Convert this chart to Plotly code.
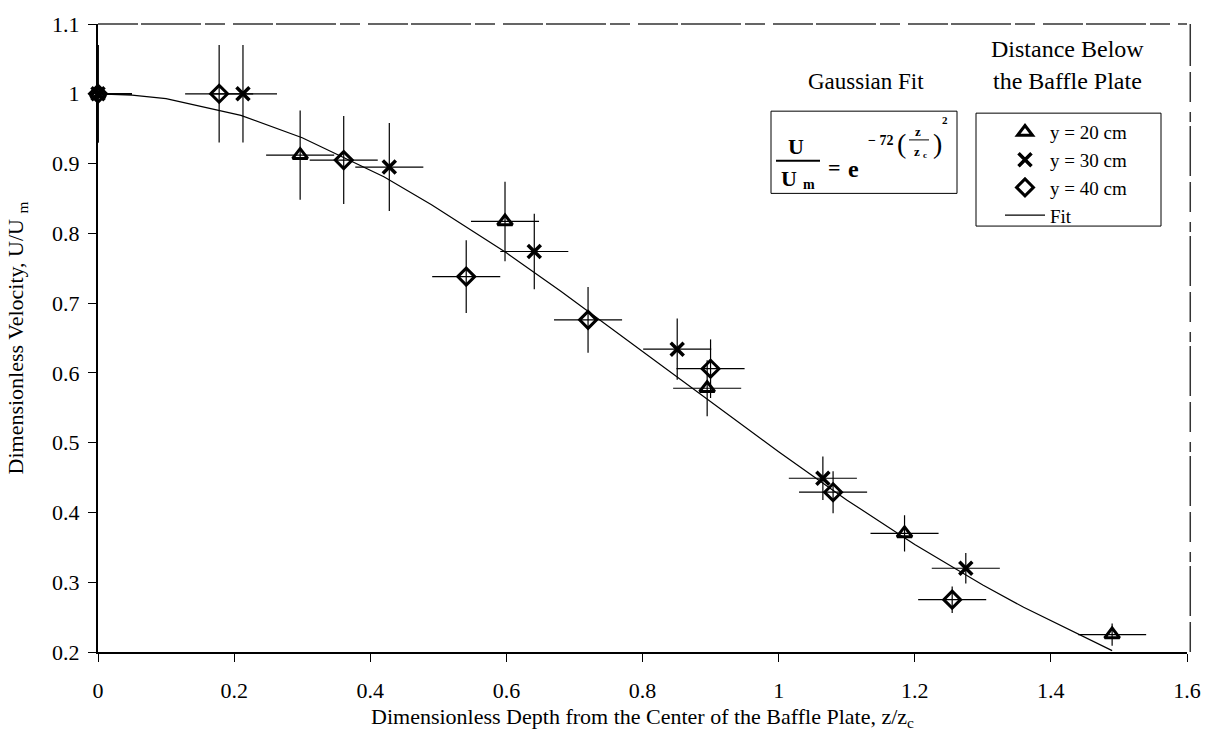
import plotly.graph_objects as go

# ---------------- data ----------------
x20 = [0.0, 0.297, 0.598, 0.895, 1.185, 1.49]
y20 = [1.0, 0.912, 0.817, 0.578, 0.370, 0.225]
ey20 = [0.070, 0.064, 0.057, 0.040, 0.026, 0.016]
ex20 = [0.05, 0.05, 0.05, 0.05, 0.05, 0.05]

x30 = [0.0, 0.213, 0.428, 0.641, 0.851, 1.065, 1.275]
y30 = [1.0, 1.0, 0.895, 0.774, 0.634, 0.449, 0.320]
ey30 = [0.070, 0.070, 0.063, 0.054, 0.044, 0.031, 0.022]
ex30 = [0.05, 0.05, 0.05, 0.05, 0.05, 0.05, 0.05]

x40 = [0.0, 0.178, 0.361, 0.541, 0.720, 0.900, 1.080, 1.255]
y40 = [1.0, 1.0, 0.905, 0.738, 0.676, 0.606, 0.429, 0.275]
ey40 = [0.070, 0.070, 0.063, 0.052, 0.047, 0.042, 0.030, 0.019]
ex40 = [0.05, 0.05, 0.05, 0.05, 0.05, 0.05, 0.05, 0.05]

xfit = [0.0, 0.05, 0.10, 0.21, 0.30, 0.42, 0.49, 0.60, 0.68, 0.80, 0.90,
        1.00, 1.10, 1.20, 1.30, 1.36, 1.49]
yfit = [1.0, 0.998, 0.993, 0.969, 0.937, 0.881, 0.841, 0.772, 0.717, 0.631,
        0.558, 0.487, 0.418, 0.354, 0.296, 0.264, 0.202]

xticks = [0, 0.2, 0.4, 0.6, 0.8, 1.0, 1.2, 1.4, 1.6]
xticklabels = ["0", "0.2", "0.4", "0.6", "0.8", "1", "1.2", "1.4", "1.6"]
yticks = [0.2, 0.3, 0.4, 0.5, 0.6, 0.7, 0.8, 0.9, 1.0, 1.1]
yticklabels = ["0.2", "0.3", "0.4", "0.5", "0.6", "0.7", "0.8", "0.9", "1", "1.1"]

labels = ["y = 20 cm", "y = 30 cm", "y = 40 cm", "Fit"]

# ---------------- layout helpers ----------------
FONT = "Liberation Serif"
L, R, T, B = 98, 30, 18, 97
W, H = 1217, 749
PW, PH = W - L - R, H - T - B


def px(xp):
    return (xp - L) / PW


def py(yp):
    return 1 - (yp - T) / PH


ebar = dict(type="data", thickness=1.2, width=0, color="black")

fig = go.Figure()

fig.add_trace(go.Scatter(
    x=xfit, y=yfit, mode="lines", name=labels[3], legendrank=4,
    line=dict(color="black", width=1.2), cliponaxis=False))

fig.add_trace(go.Scatter(
    x=x20, y=y20, mode="markers", name=labels[0], legendrank=1,
    marker=dict(symbol="triangle-up-open", size=13, color="black",
                line=dict(width=3, color="black")),
    error_y=dict(array=ey20, **ebar), error_x=dict(array=ex20, **ebar),
    cliponaxis=False))

fig.add_trace(go.Scatter(
    x=x30, y=y30, mode="markers", name=labels[1], legendrank=2,
    marker=dict(symbol="x-thin-open", size=13, color="black",
                line=dict(width=3.5, color="black")),
    error_y=dict(array=ey30, **ebar), error_x=dict(array=ex30, **ebar),
    cliponaxis=False))

fig.add_trace(go.Scatter(
    x=x40, y=y40, mode="markers", name=labels[2], legendrank=3,
    marker=dict(symbol="diamond-open", size=13, color="black",
                line=dict(width=3, color="black")),
    error_y=dict(array=ey40, **ebar), error_x=dict(array=ex40, **ebar),
    cliponaxis=False))

axis_common = dict(showgrid=False, zeroline=False, ticks="outside", ticklen=8,
                   tickwidth=1, tickcolor="black", showline=True,
                   linecolor="black", linewidth=2,
                   tickfont=dict(family=FONT, size=22, color="black"))

fig.update_layout(
    width=W, height=H, autosize=False,
    margin=dict(l=L, r=R, t=T, b=B, pad=0),
    paper_bgcolor="white", plot_bgcolor="white",
    font=dict(family=FONT, color="black"),
    xaxis=dict(range=[0, 1.6], tickvals=xticks, ticktext=xticklabels,
               ticklabelstandoff=10,
               title=dict(text="Dimensionless Depth from the Center of the Baffle Plate, z/z<sub>c</sub>",
                          font=dict(family=FONT, size=22), standoff=6),
               **axis_common),
    yaxis=dict(range=[0.2, 1.1], tickvals=yticks, ticktext=yticklabels,
               ticklabelstandoff=4,
               title=dict(text="Dimensionless Velocity, U/U <sub>m</sub>",
                          font=dict(family=FONT, size=22), standoff=22),
               **axis_common),
    xaxis2=dict(range=[0, 1.6], overlaying="x", anchor="y", tickvals=xticks,
                ticks="inside", ticklen=8, tickcolor="black", tickwidth=1,
                showticklabels=False, showgrid=False, zeroline=False, showline=False),
    yaxis2=dict(range=[0.2, 1.1], overlaying="y", anchor="x", tickvals=yticks,
                ticks="inside", ticklen=8, tickcolor="black", tickwidth=1,
                showticklabels=False, showgrid=False, zeroline=False, showline=False),
    showlegend=True,
    legend=dict(x=px(1000), y=py(108), xanchor="left", yanchor="top",
                bgcolor="rgba(0,0,0,0)", borderwidth=0,
                font=dict(family=FONT, size=19, color="black"),
                itemwidth=40, tracegroupgap=0),
)

# dashed top / right frame
fig.add_shape(type="line", xref="paper", yref="paper", x0=0, x1=1, y0=1, y1=1,
              line=dict(color="#333", width=1.5, dash="40px,3px,60px,4px,20px,8px"))
fig.add_shape(type="line", xref="paper", yref="paper", x0=1.003, x1=1.003, y0=0, y1=1,
              line=dict(color="#333", width=1.5, dash="30px,6px,50px,4px,10px,10px"))

# legend box
fig.add_shape(type="rect", xref="paper", yref="paper",
              x0=px(976), x1=px(1161), y0=py(222), y1=py(108),
              line=dict(color="black", width=1))

# equation box
fig.add_shape(type="rect", xref="paper", yref="paper",
              x0=px(771), x1=px(957), y0=py(189), y1=py(106),
              line=dict(color="black", width=1))


def ann(text, xp, yp, size=18, bold=False, xanchor="center"):
    t = f"<b>{text}</b>" if bold else text
    fig.add_annotation(text=t, xref="paper", yref="paper", x=px(xp), y=py(yp),
                       showarrow=False, xanchor=xanchor, yanchor="middle",
                       font=dict(family=FONT, size=size, color="black"))


ann("Distance Below", 1067, 43, size=24)
ann("the Baffle Plate", 1067, 76, size=24)
ann("Gaussian Fit", 866, 76, size=23)

# equation  U/U_m = e^{-72 (z/z_c)^2}
ann("U", 796, 142, size=22, bold=True)
fig.add_shape(type="line", xref="paper", yref="paper",
              x0=px(776), x1=px(820), y0=py(156), y1=py(156),
              line=dict(color="black", width=2))
ann("U", 789, 174, size=22, bold=True)
ann("m", 809, 180, size=14, bold=True)
ann("=", 834, 163, size=22, bold=True)
ann("e", 853, 164, size=24, bold=True)
ann("\u2212 72", 880, 136, size=14, bold=True)
ann("(", 901, 139, size=28)
ann(")", 937, 139, size=28)
ann("z", 918, 127, size=13, bold=True)
fig.add_shape(type="line", xref="paper", yref="paper",
              x0=px(909), x1=px(929), y0=py(135), y1=py(135),
              line=dict(color="black", width=1))
ann("z", 917, 147, size=13, bold=True)
ann("c", 925, 150, size=9, bold=True)
ann("2", 945, 115, size=11, bold=True)

fig.write_html("out.html")
